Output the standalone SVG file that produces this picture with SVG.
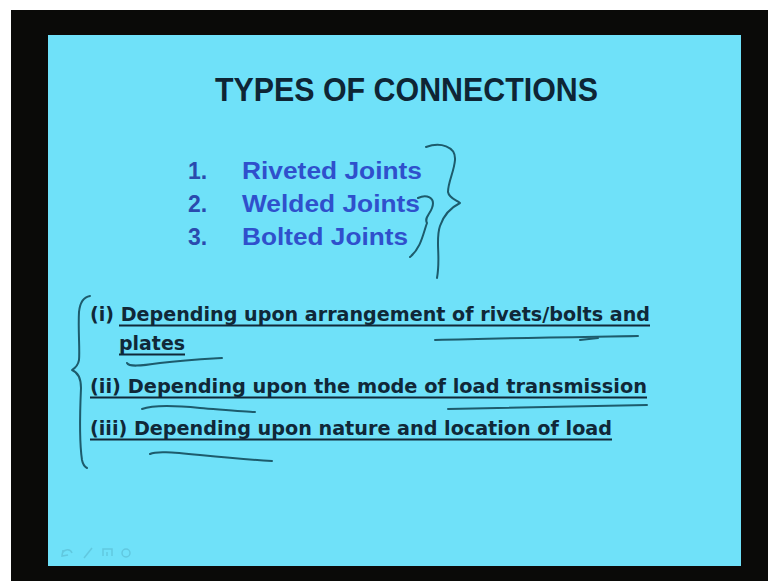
<svg xmlns="http://www.w3.org/2000/svg" width="768" height="581" viewBox="0 0 768 581">
  <style>
    .title { font-family: "Liberation Sans", Arial, sans-serif; font-weight: bold; font-size: 33px; fill: #0e2535; }
    .num { font-family: "Liberation Sans", Arial, sans-serif; font-weight: bold; font-size: 23px; fill: #2a4aae; }
    .item { font-family: "Liberation Sans", Arial, sans-serif; font-weight: bold; font-size: 23px; fill: #2f50cc; }
    .crit { font-family: "DejaVu Sans", Verdana, sans-serif; font-weight: bold; font-size: 20px; fill: #102838; }
    .uline { stroke: #102838; stroke-width: 2; }
    .ink { fill: none; stroke: #1d5b6c; stroke-width: 2; stroke-linecap: round; stroke-linejoin: round; }
    .icon { fill: none; stroke: #5bbdd4; stroke-width: 1.5; opacity: 0.7; }
  </style>
  <rect x="0" y="0" width="768" height="581" fill="#ffffff"/>
  <rect x="11" y="10" width="757" height="571" fill="#0a0a08"/>
  <rect id="slide" x="48" y="35" width="693" height="531" fill="#6fe1f9"/>

  <g id="title">
    <text class="title" x="215" y="101" textLength="383" lengthAdjust="spacingAndGlyphs">TYPES OF CONNECTIONS</text>
  </g>

  <g id="item1">
    <text class="num" x="188" y="179">1.</text>
    <text class="item" x="242" y="179" textLength="180" lengthAdjust="spacingAndGlyphs">Riveted Joints</text>
  </g>
  <g id="item2">
    <text class="num" x="188" y="212">2.</text>
    <text class="item" x="242" y="212" textLength="178" lengthAdjust="spacingAndGlyphs">Welded Joints</text>
  </g>
  <g id="item3">
    <text class="num" x="188" y="245">3.</text>
    <text class="item" x="242" y="245" textLength="166" lengthAdjust="spacingAndGlyphs">Bolted Joints</text>
  </g>

  <g id="crit1">
    <text class="crit" x="90" y="321" textLength="560" lengthAdjust="spacingAndGlyphs">(i) Depending upon arrangement of rivets/bolts and</text>
    <line class="uline" x1="119" y1="325.5" x2="650" y2="325.5"/>
    <text class="crit" x="119" y="350" textLength="66" lengthAdjust="spacingAndGlyphs">plates</text>
    <line class="uline" x1="119" y1="354.5" x2="185" y2="354.5"/>
  </g>
  <g id="crit2">
    <text class="crit" x="90" y="393" textLength="557" lengthAdjust="spacingAndGlyphs">(ii) Depending upon the mode of load transmission</text>
    <line class="uline" x1="90" y1="397.5" x2="647" y2="397.5"/>
  </g>
  <g id="crit3">
    <text class="crit" x="90" y="435" textLength="522" lengthAdjust="spacingAndGlyphs">(iii) Depending upon nature and location of load</text>
    <line class="uline" x1="90" y1="439.5" x2="612" y2="439.5"/>
  </g>

  <g id="annotations">
    <path class="ink" d="M 426,147 C 440,142 456,146 455,160 C 454,172 448,182 448,192 C 449,198 456,200 460,203 C 452,207 444,214 440,226 C 435,240 441,256 437,278"/>
    <path class="ink" d="M 418,198 C 426,194 436,197 432,208 C 430,214 424,218 427,223 C 423,234 421,248 410,257"/>
    <path class="ink" d="M 90,296 C 84,297 80,302 79,312 C 78,330 80,350 79,360 C 78,366 75,368 72,370 C 77,372 81,376 81,388 C 80,410 79,440 82,460 C 83,465 85,467 87,468"/>
    <path class="ink" d="M 127,363 C 129,367 140,366 160,363 C 185,360 205,359 222,358"/>
    <path class="ink" d="M 435,340 C 500,338 580,337 638,336"/>
    <path class="ink" d="M 580,340 L 598,338" stroke-width="3.5"/>
    <path class="ink" d="M 142,409 C 150,406 170,405 200,408 C 225,410 245,412 255,412"/>
    <path class="ink" d="M 448,409 C 520,407 590,406 647,405"/>
    <path class="ink" d="M 150,454 C 156,451 170,452 200,455 C 230,458 255,460 272,461"/>
  </g>

  <g id="toolbar">
    <path class="icon" d="M 62,556 C 62,549 70,548 72,553 M 63,550 L 62,556 L 68,555"/>
    <path class="icon" d="M 84,558 L 92,548"/>
    <path class="icon" d="M 103,556 L 103,549 L 112,549 L 112,556 M 107,552 L 107,556"/>
    <circle class="icon" cx="126" cy="553" r="4"/>
  </g>
</svg>
